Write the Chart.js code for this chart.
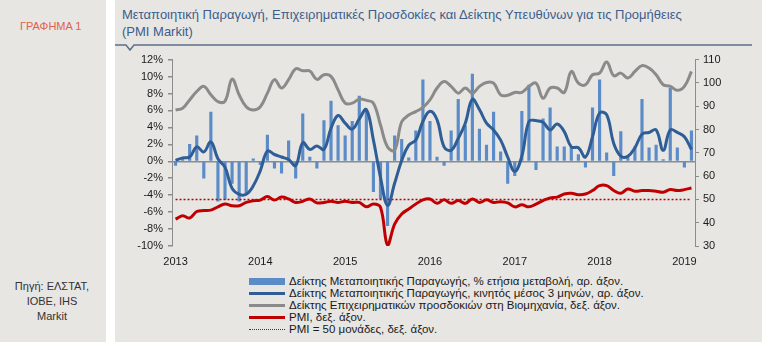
<!DOCTYPE html>
<html lang="el">
<head>
    <meta charset="UTF-8">
    <title>Γράφημα 1</title>
    <script src="https://cdn.jsdelivr.net/npm/chart.js"></script>
    <style>
        body {
            margin: 0;
            width: 762px;
            height: 342px;
            background-color: #fff;
            font-family: "Liberation Sans", Arial, sans-serif;
            position: relative;
            overflow: hidden;
        }
        .side {
            position: absolute;
            left: 0; top: 0;
            width: 106px; height: 342px;
            background-color: #e7e6e3;
        }
        .main {
            position: absolute;
            left: 115px; top: 0;
            width: 647px; height: 342px;
            background-color: #e7e6e3;
        }
        .fig-no {
            position: absolute;
            left: 20px; top: 20px;
            font-size: 11px;
            color: #e0604c;
        }
        .source {
            position: absolute;
            left: 0; top: 279px;
            width: 104px;
            text-align: center;
            font-size: 11px;
            line-height: 15px;
            color: #333;
        }
        .title {
            position: absolute;
            left: 122px; top: 6px;
            font-size: 13px;
            line-height: 17px;
            color: #3d5d8c;
        }
        .rule {
            position: absolute;
            left: 115px; top: 40px;
        }
        .chart-box {
            position: absolute;
            left: 115px; top: 48px;
            width: 647px; height: 222px;
        }
        .legend {
            position: absolute;
            left: 249px; top: 275px;
            font-size: 11.5px;
            color: #1a1a1a;
        }
        .legend div {
            height: 12px;
            line-height: 12px;
            display: flex;
            align-items: center;
            white-space: nowrap;
        }
        .legend span.sw {
            display: inline-block;
            width: 36px;
            margin-right: 4px;
        }
    </style>
</head>
<body>
    <div class="side"></div>
    <div class="main"></div>

    <div class="fig-no">ΓΡΑΦΗΜΑ 1</div>
    <div class="source">Πηγή: ΕΛΣΤΑΤ,<br>ΙΟΒΕ, IHS<br>Markit</div>

    <div class="title">Μεταποιητική Παραγωγή, Επιχειρηματικές Προσδοκίες και Δείκτης Υπευθύνων για τις Προμήθειες<br>(PMI Markit)</div>
    <svg class="rule" width="640" height="12">
        <polyline points="0,5 11,5 15,10 19,5 637,5" fill="none" stroke="#5b6f8c" stroke-width="1.5"/>
    </svg>

    <div class="chart-box"><canvas id="chart"></canvas></div>

    <!-- legend -->
    <div class="legend">
        <div><span class="sw" style="height:7px;background:#5b8cc8"></span>Δείκτης Μεταποιητικής Παραγωγής, % ετήσια μεταβολή, αρ. άξον.</div>
        <div><span class="sw" style="height:3px;background:#2f5d96"></span>Δείκτης Μεταποιητικής Παραγωγής, κινητός μέσος 3 μηνών, αρ. άξον.</div>
        <div><span class="sw" style="height:3px;background:#8a8a8a"></span>Δείκτης Επιχειρηματικών προσδοκιών στη Βιομηχανία, δεξ. άξον.</div>
        <div><span class="sw" style="height:3px;background:#c00000"></span>PMI, δεξ. άξον.</div>
        <div><span class="sw" style="height:0;border-top:1.5px dotted #c00000"></span>PMI = 50 μονάδες, δεξ. άξον.</div>
    </div>

    <script>
        // years shown on the x axis, data is monthly Jan 2013 - Feb 2019
        const years = ['2013', '2014', '2015', '2016', '2017', '2018', '2019'];
        const monthCount = 74;

        // Manufacturing production, % y/y (left axis)
        const prodYoY = [
            -0.5, 0.3, 2.0, 3.0, -2.0, 5.8, -4.7, -4.5, -2.6, -4.7, -3.9, 0.3,
            -0.4, 3.1, -0.8, -1.4, 2.4, -2.0, 5.6, 0.5, -0.8, 4.8, 7.1, 4.2,
            3.0, 4.7, 7.7, 5.9, -3.6, -4.4, -7.6, 3.0, 2.6, 0.4, 3.6, 9.6,
            4.7, 0.5, -0.5, 3.6, 7.3, 4.2, 10.3, 3.8, 1.9, 5.8, 1.1, -2.6,
            -1.7, 5.9, 9.0, -1.0, 5.0, 6.3, 1.7, 1.7, 1.7, 0.8, -0.7, 6.3,
            9.6, 1.0, -1.7, 3.5, 0.6, 1.7, 7.3, 1.6, 1.9, 0.2, 8.6, 1.6,
            -0.7, 3.6
        ];

        // Manufacturing production, 3-month moving average (left axis)
        const prodMA3 = [
            0.1, 0.4, 0.5, 1.7, 1.1, 2.3, 0.3, -0.7, -3.2, -3.9, -3.9, -2.9,
            -1.1, 1.2, 0.8, 0.5, 0.2, -0.5, 2.2, 1.4, 1.8, 1.4, 3.9, 5.4,
            4.5, 3.8, 5.0, 6.1, 2.5, -1.9, -5.2, -2.6, 0.1, 1.9, 2.5, 4.7,
            5.9, 4.9, 1.7, 1.3, 2.7, 4.5, 7.3, 6.1, 4.5, 3.7, 2.5, 0.5,
            -1.2, 0.6, 4.7, 4.8, 4.6, 3.7, 4.4, 3.5, 1.7, 1.6, 0.5, 2.9,
            5.7, 5.5, 2.1, 0.6, 0.6, 1.6, 3.2, 3.4, 3.7, 1.3, 3.7, 3.4,
            2.9, 1.4
        ];

        // Business expectations in industry (right axis)
        const expectations = [
            88.4, 89.1, 92.7, 96.3, 98.5, 94.9, 92.0, 92.2, 101.6, 94.9, 89.8, 88.4,
            89.8, 95.6, 101.4, 97.8, 101.4, 106.1, 105.2, 105.1, 101.5, 103.5, 102.8, 97.0,
            91.3, 91.3, 93.0, 92.5, 91.3, 81.9, 72.5, 71.1, 83.3, 86.2, 87.7, 89.5,
            92.7, 97.8, 100.6, 98.5, 95.6, 97.8, 95.6, 98.5, 100.2, 99.9, 94.9, 94.7,
            95.9, 95.9, 98.5, 99.9, 93.4, 97.8, 97.8, 95.9, 104.9, 99.9, 99.2, 103.5,
            104.2, 109.0, 103.1, 104.2, 102.1, 104.9, 107.4, 106.4, 103.5, 99.2, 98.5, 96.8,
            98.5, 104.9
        ];

        // PMI Markit (right axis)
        const pmi = [
            41.5, 43.0, 42.0, 44.8, 45.2, 45.4, 46.8, 48.0, 47.3, 47.3, 48.7, 49.4,
            49.7, 51.2, 49.7, 51.0, 50.2, 48.7, 49.2, 50.2, 48.5, 48.7, 49.2, 48.7,
            49.2, 48.7, 48.7, 46.8, 48.0, 46.6, 30.4, 39.4, 43.7, 45.9, 48.0, 49.8,
            50.2, 48.3, 49.8, 48.3, 49.5, 48.3, 50.2, 48.7, 49.8, 48.7, 49.0, 48.5,
            46.8, 47.7, 46.8, 48.0, 49.5, 50.6, 51.0, 52.3, 52.6, 52.0, 52.3, 53.8,
            55.9, 55.9, 53.8, 52.6, 54.5, 53.5, 53.8, 53.8, 53.5, 53.1, 54.2, 53.8,
            54.2, 54.9
        ];
        const pmiThreshold = 50;

        // monthly categories, a year label on every January
        const months = [];
        for (let i = 0; i < monthCount; i++) {
            months.push(years[Math.floor(i / 12)] + '-' + String(i % 12 + 1).padStart(2, '0'));
        }

        Chart.defaults.font.family = '"Liberation Sans", Arial, sans-serif';
        Chart.defaults.font.size = 11;
        Chart.defaults.color = '#1a1a1a';

        const axisGray = '#8c8c8c';

        const ctx = document.getElementById('chart').getContext('2d');
        const chart = new Chart(ctx, {
            type: 'bar',
            data: {
                labels: months,
                datasets: [
                    {
                        type: 'line',
                        label: 'PMI',
                        data: pmi,
                        yAxisID: 'y1',
                        borderColor: '#c00000',
                        borderWidth: 3,
                        pointRadius: 0,
                        tension: 0.4,
                        order: 1
                    },
                    {
                        type: 'line',
                        label: 'MA3',
                        data: prodMA3,
                        yAxisID: 'y',
                        borderColor: '#2f5d96',
                        borderWidth: 3,
                        pointRadius: 0,
                        tension: 0.4,
                        order: 2
                    },
                    {
                        type: 'line',
                        label: 'Expectations',
                        data: expectations,
                        yAxisID: 'y1',
                        borderColor: '#8a8a8a',
                        borderWidth: 3,
                        pointRadius: 0,
                        tension: 0.4,
                        order: 3
                    },
                    {
                        type: 'line',
                        label: 'PMI = 50',
                        data: months.map(() => pmiThreshold),
                        yAxisID: 'y1',
                        borderColor: '#c00000',
                        borderWidth: 1.5,
                        borderDash: [2, 2],
                        pointRadius: 0,
                        order: 4
                    },
                    {
                        label: 'Production y/y',
                        data: prodYoY,
                        yAxisID: 'y',
                        backgroundColor: '#5b8cc8',
                        barThickness: 2.5,
                        order: 5
                    }
                ]
            },
            options: {
                responsive: true,
                maintainAspectRatio: false,
                animation: false,
                devicePixelRatio: 1,
                layout: { padding: { top: 11, left: 0, right: 0, bottom: 0 } },
                plugins: {
                    legend: { display: false },
                    tooltip: { enabled: false }
                },
                scales: {
                    x: {
                        offset: true,
                        grid: { display: false, drawTicks: false },
                        border: { display: false },
                        ticks: {
                            autoSkip: false,
                            maxRotation: 0,
                            padding: 9,
                            callback: (v, i) => (i % 12 === 0 ? years[i / 12] : '')
                        },
                        afterFit: s => { s.height = 24; }
                    },
                    y: {
                        position: 'left',
                        min: -10,
                        max: 12,
                        ticks: {
                            stepSize: 2,
                            padding: 5,
                            callback: v => v + '%'
                        },
                        grid: {
                            color: c => (c.tick && c.tick.value === 0 ? axisGray : 'transparent'),
                            lineWidth: 1.5,
                            tickColor: axisGray,
                            tickLength: 4
                        },
                        border: { color: axisGray, width: 1 },
                        afterFit: s => { s.width = 57; }
                    },
                    y1: {
                        position: 'right',
                        min: 30,
                        max: 110,
                        ticks: { stepSize: 10, padding: 4 },
                        grid: {
                            drawOnChartArea: false,
                            tickColor: axisGray,
                            tickLength: 4
                        },
                        border: { color: axisGray, width: 1 },
                        afterFit: s => { s.width = 67; }
                    }
                }
            }
        });
    </script>
</body>
</html>
